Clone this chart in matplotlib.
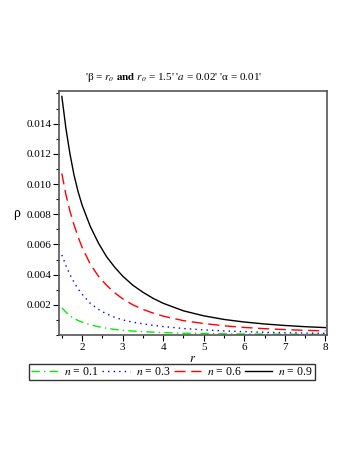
import numpy as np
import matplotlib
matplotlib.use("Agg")
import matplotlib.pyplot as plt
from matplotlib.ticker import MultipleLocator, FormatStrFormatter

plt.rcParams["font.family"] = ["Liberation Serif", "DejaVu Serif"]
plt.rcParams["mathtext.fontset"] = "stix"

# values
r = [1.5, 1.6, 1.7, 1.8, 1.9, 2.0, 2.2, 2.4, 2.6, 2.8, 3.0, 3.25, 3.5, 3.75, 4.0,
     4.5, 5.0, 5.5, 6.0, 6.5, 7.0, 7.5, 8.0]
rho_01 = [0.0018, 0.00152, 0.00128, 0.0011, 0.00096, 0.00085, 0.00068, 0.00055, 0.00045,
          0.00037, 0.00031, 0.00026, 0.00022, 0.00019, 0.00016,
          0.00012, 0.0001, 0.00008, 0.000068, 0.000058, 0.00005, 0.000044, 0.00004]
rho_03 = [0.0053, 0.0046, 0.004, 0.0035, 0.00305, 0.0027, 0.0021, 0.0017, 0.0014,
          0.00118, 0.001, 0.00085, 0.00074, 0.00064, 0.00056,
          0.00043, 0.00034, 0.00027, 0.00022, 0.00018, 0.00015, 0.00013, 0.00011]
rho_06 = [0.0107, 0.0093, 0.0082, 0.0073, 0.0065, 0.0058, 0.0047, 0.0039, 0.0033,
          0.0028, 0.0024, 0.002, 0.0017, 0.00145, 0.00125,
          0.00095, 0.00076, 0.00061, 0.0005, 0.00042, 0.00036, 0.00031, 0.00027]
rho_09 = [0.0158, 0.0137, 0.012, 0.0106, 0.0095, 0.0086, 0.0072, 0.0061, 0.0052,
          0.0045, 0.0039, 0.0033, 0.00283, 0.00243, 0.0021,
          0.0016, 0.00127, 0.00103, 0.00086, 0.00073, 0.00063, 0.00055, 0.00049]

labels = ["$n$ = 0.1", "$n$ = 0.3", "$n$ = 0.6", "$n$ = 0.9"]

fig = plt.figure(figsize=(3.54, 4.58), dpi=100)
ax = fig.add_axes([59/354, 1-335/458, (327-59)/354, (335-91)/458])

ax.plot(r, rho_01, color="#00ee00", lw=1, dashes=(6, 3, 1, 3), label=labels[0])
ax.plot(r, rho_03, color="#0000ff", lw=1, dashes=(1, 3), label=labels[1])
ax.plot(r, rho_06, color="#ff0000", lw=1, dashes=(8, 4), label=labels[2])
ax.plot(r, rho_09, color="black", lw=1, label=labels[3])

ax.set_xlim(1.43, 8.04)
ax.set_ylim(0, 0.01616)
ax.xaxis.set_major_locator(MultipleLocator(1))
ax.xaxis.set_minor_locator(MultipleLocator(0.5))
ax.yaxis.set_minor_locator(MultipleLocator(0.001))
ax.set_yticks(np.arange(0.002, 0.0150, 0.002))
ax.yaxis.set_major_formatter(FormatStrFormatter("%.3f"))
ax.tick_params(which="both", direction="out", labelsize=8, pad=1.5,
               top=False, right=False)
ax.tick_params(which="major", length=4, width=0.8)
ax.tick_params(which="minor", length=2.5, width=0.8)
for s in ax.spines.values():
    s.set_color("#555555")
    s.set_linewidth(1.2)

ax.set_title("'β = $r_o$ $\\mathbf{and}$ $r_o$ = 1.5' '$a$ = 0.02' 'α = 0.01'",
             fontsize=8, x=(174-59)/268, y=1.012)
ax.set_xlabel("$r$", fontsize=9)
ax.xaxis.set_label_coords((193-59)/268, (335-353)/244)
ax.set_ylabel("ρ", fontsize=10, rotation=0)
ax.yaxis.set_label_coords((17-59)/268, 0.47)

fig.legend(loc="center", bbox_to_anchor=(172/354, 1-372/458), ncol=4, fontsize=8.5,
           frameon=True, fancybox=False, edgecolor="black", handlelength=2.3,
           handletextpad=0.5, columnspacing=0.3, borderpad=0.2, borderaxespad=0)

fig.savefig("out.png", dpi=100)
